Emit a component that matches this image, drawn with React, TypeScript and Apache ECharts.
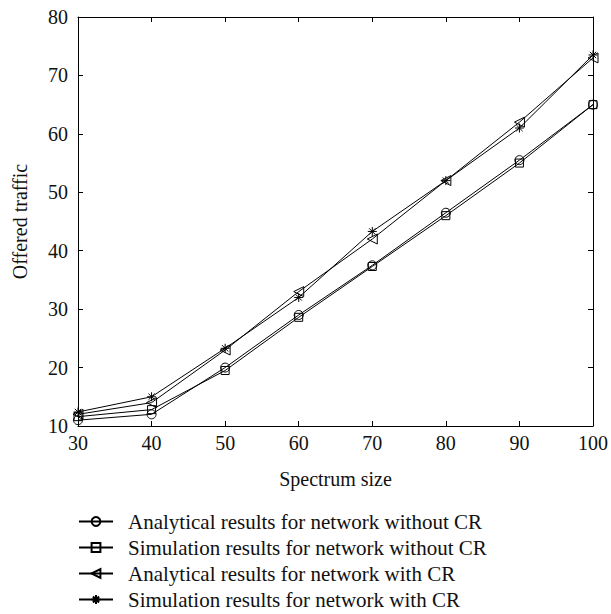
import React, { useEffect, useRef } from "react";
import * as echarts from "echarts";

const spectrumSize = [30, 40, 50, 60, 70, 80, 90, 100];
const analyticalWithoutCR = [11, 12, 20, 29, 37.5, 46.5, 55.5, 65];
const simulationWithoutCR = [11.6, 12.8, 19.5, 28.6, 37.3, 46, 55, 65];
const analyticalWithCR = [12, 14, 23, 33, 42, 52, 62, 73];
const simulationWithCR = [12.4, 15, 23.3, 32, 43.3, 52, 61, 73.5];

const seriesNames = [
  "Analytical results for network without CR",
  "Simulation results for network without CR",
  "Analytical results for network with CR",
  "Simulation results for network with CR",
];

const FONT = "'Liberation Serif', 'Times New Roman', serif";
const ASTERISK = "path://M0,-1L0,1M-1,0L1,0M-0.7,-0.7L0.7,0.7M-0.7,0.7L0.7,-0.7";

export default function App() {
  const ref = useRef<HTMLDivElement>(null);
  useEffect(() => {
    document.body.style.margin = "0";
    const chart = echarts.init(ref.current!, null, { renderer: "svg" });
    const pairs = (ys: number[]) => spectrumSize.map((x, i) => [x, ys[i]]);
    const mk = (name: string, ys: number[], symbol: string, size: number, rotate = 0) => ({
      name,
      type: "line",
      data: pairs(ys),
      symbol,
      symbolSize: size,
      symbolRotate: rotate,
      showAllSymbol: true,
      lineStyle: { color: "#000", width: 1 },
      itemStyle: { color: "rgba(0,0,0,0)", borderColor: "#000", borderWidth: 1 },
      emphasis: { disabled: true },
      z: 3,
    });
    const axisLabel = { color: "#111", fontFamily: FONT, fontSize: 20 };
    chart.setOption({
      animation: false,
      textStyle: { fontFamily: FONT },
      grid: { left: 78, right: 15, top: 17, bottom: 188 },
      xAxis: [
        {
          type: "value",
          min: 30,
          max: 100,
          interval: 10,
          name: "Spectrum size",
          nameLocation: "middle",
          nameGap: 43,
          nameTextStyle: { color: "#111", fontFamily: FONT, fontSize: 20 },
          axisLine: { lineStyle: { color: "#000", width: 1 } },
          axisTick: { inside: true, length: 5, lineStyle: { color: "#000" } },
          axisLabel: { ...axisLabel, margin: 7 },
          splitLine: { show: false },
        },
        {
          type: "value",
          position: "top",
          min: 30,
          max: 100,
          interval: 10,
          axisLine: { lineStyle: { color: "#000", width: 1 } },
          axisTick: { inside: true, length: 5, lineStyle: { color: "#000" } },
          axisLabel: { show: false },
          splitLine: { show: false },
        },
      ],
      yAxis: [
        {
          type: "value",
          min: 10,
          max: 80,
          interval: 10,
          name: "Offered traffic",
          nameLocation: "middle",
          nameGap: 48,
          nameTextStyle: { color: "#111", fontFamily: FONT, fontSize: 20 },
          axisLine: { show: true, lineStyle: { color: "#000", width: 1 } },
          axisTick: { show: true, inside: true, length: 5, lineStyle: { color: "#000" } },
          axisLabel: { ...axisLabel, margin: 10 },
          splitLine: { show: false },
        },
        {
          type: "value",
          position: "right",
          min: 10,
          max: 80,
          interval: 10,
          axisLine: { show: true, lineStyle: { color: "#000", width: 1 } },
          axisTick: { show: true, inside: true, length: 5, lineStyle: { color: "#000" } },
          axisLabel: { show: false },
          splitLine: { show: false },
        },
      ],
      legend: {
        orient: "vertical",
        left: 78,
        top: 511,
        height: 140,
        itemWidth: 34,
        itemHeight: 11,
        itemGap: 5,
        padding: 0,
        textStyle: {
          color: "#111",
          fontFamily: FONT,
          fontSize: 21,
          padding: [0, 0, 0, 10],
        },
        data: seriesNames,
      },
      series: [
        mk(seriesNames[0], analyticalWithoutCR, "circle", 9),
        mk(seriesNames[1], simulationWithoutCR, "rect", 8),
        mk(seriesNames[2], analyticalWithCR, "triangle", 10, 90),
        mk(seriesNames[3], simulationWithCR, ASTERISK, 9),
      ],
    });
    return () => chart.dispose();
  }, []);
  return <div ref={ref} style={{ width: 611, height: 614 }} />;
}
